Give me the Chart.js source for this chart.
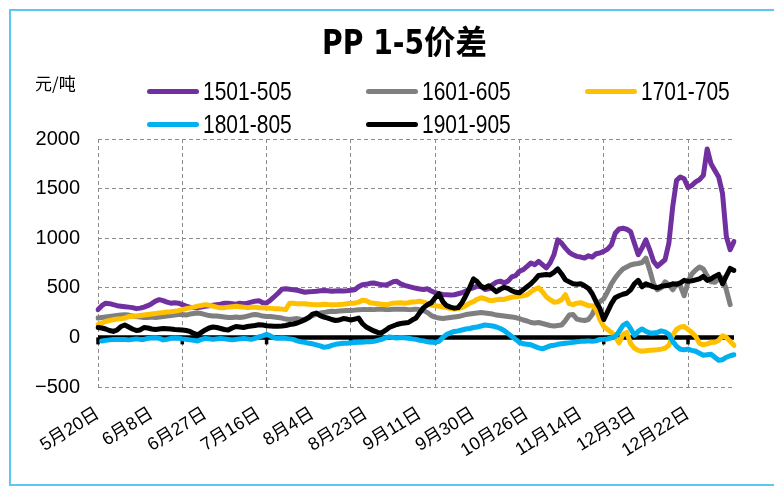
<!DOCTYPE html>
<html>
<head>
<meta charset="utf-8">
<script src="https://cdn.jsdelivr.net/npm/chart.js@4.4.0/dist/chart.umd.min.js"></script>
<style>
html,body{margin:0;padding:0;background:#fff;}
#wrap{position:relative;width:774px;height:486px;overflow:hidden;background:#fff;}
#frame{position:absolute;left:9px;top:9px;width:800px;height:477px;box-sizing:border-box;border:2px solid #5BC8F2;}
#title{position:absolute;left:322px;top:25px;font-family:"Liberation Sans Narrow","DejaVu Sans Condensed","Noto Sans CJK SC",sans-serif;font-weight:bold;font-size:33px;line-height:36px;color:#000;white-space:nowrap;transform:scaleX(0.95);transform-origin:left center;}
#unit{position:absolute;left:35px;top:73px;font-family:"Noto Sans CJK SC",sans-serif;font-size:17px;line-height:20px;color:#000;white-space:nowrap;}
.lg-line{position:absolute;height:5px;border-radius:3px;}
.lg-text{position:absolute;font-family:"Liberation Sans Narrow","Liberation Sans",sans-serif;font-size:25px;line-height:28px;color:#000;white-space:nowrap;transform:scaleX(0.84);transform-origin:left center;}
canvas{position:absolute;left:0;top:0;}
</style>
</head>
<body>
<div id="wrap">
  <div id="frame"></div>
  <canvas id="c" width="774" height="486"></canvas>
  <div id="title">PP 1-5价差</div>
  <div id="unit">元/吨</div>
  <div id="legend"></div>
</div>
<script>
// ---- data ----
const tickLabels = ['5月20日','6月8日','6月27日','7月16日','8月4日','8月23日','9月11日','9月30日','10月26日','11月14日','12月3日','12月22日'];
const seriesNames = ['1501-505','1601-605','1701-705','1801-805','1901-905'];
const seriesColors = ['#7030A0','#7F7F7F','#FFC000','#00B0F0','#000000'];

const s1501 = [
280,320,345,340,330,320,315,310,305,300,
290,295,305,320,340,365,380,370,355,345,
350,345,330,315,305,300,300,305,315,320,
325,330,335,345,345,340,335,345,340,345,
355,365,370,350,348,375,410,445,485,490,
485,480,475,465,455,460,462,465,470,473,
470,465,468,470,468,470,475,480,510,530,
535,545,548,540,530,528,540,560,565,540,
525,515,505,495,488,483,490,467,450,440,
433,430,427,430,440,450,467,490,500,517,
510,483,490,533,557,567,550,567,610,623,
667,683,717,750,733,767,733,700,750,833,
983,950,900,857,833,817,810,800,823,810,
843,850,867,890,933,1050,1093,1100,1090,1067,
950,833,900,983,883,767,717,750,783,950,
1317,1583,1617,1600,1510,1533,1567,1590,1633,1900,
1750,1683,1617,1450,1017,883,967];

const s1601 = [
195,200,205,210,215,220,225,228,225,215,
210,205,200,200,205,200,205,210,215,220,
225,230,230,225,235,240,245,240,230,220,
215,215,210,205,200,200,205,200,205,215,
225,230,225,215,210,210,205,200,195,185,
180,185,190,180,175,200,220,235,245,250,
258,263,262,265,268,270,272,275,278,280,
280,282,280,283,285,282,280,283,285,285,
283,280,282,285,280,270,250,220,205,195,
190,195,200,205,210,220,230,235,240,245,
250,245,240,235,225,220,215,210,205,200,
190,175,165,150,145,150,140,130,120,115,
120,125,170,225,230,185,175,170,180,230,
320,360,390,460,540,600,650,690,710,730,
740,745,755,800,680,540,480,500,560,530,
480,540,520,420,560,640,680,710,690,620,
560,555,590,600,480,330,null];

const s1701 = [
130,145,160,170,178,185,187,195,210,213,
215,220,225,230,235,240,247,250,255,258,
263,270,280,290,298,305,315,322,330,325,
315,305,298,300,305,310,313,310,305,300,
303,305,300,298,297,293,290,288,285,280,
345,345,340,338,340,335,332,330,330,335,
332,330,328,332,335,340,345,345,355,375,
370,350,345,340,335,330,335,345,348,350,
345,350,358,360,365,355,340,325,318,315,
305,300,290,285,292,300,320,345,360,385,
400,390,375,370,380,385,383,395,405,410,
415,420,430,460,485,500,460,410,380,355,
360,380,430,340,330,345,350,335,320,320,
285,180,110,80,50,10,-55,30,50,-60,
-110,-130,-140,-135,-130,-128,-125,-118,-110,-80,
20,80,105,110,80,50,10,-60,-75,-65,
-50,-50,-30,15,0,-40,-80];

const s1801 = [
null,-37,-30,-25,-22,-20,-20,-22,-25,-20,
-15,-20,-20,-10,-5,-3,-10,-25,-20,-10,
-5,-8,-15,-20,-25,-30,-37,-20,-10,-15,
-20,-15,-10,-15,-20,-25,-20,-15,-10,-15,
-20,-10,5,15,30,15,-5,-10,-5,-10,
-15,-20,-35,-45,-50,-60,-65,-75,-85,-100,
-95,-80,-70,-65,-60,-58,-55,-52,-50,-48,
-45,-45,-40,-30,-20,-5,5,0,-5,0,
-3,-8,-15,-20,-30,-35,-45,-50,-50,-40,
0,30,45,60,65,75,85,90,100,105,
115,125,120,115,105,90,70,40,10,-20,
-50,-65,-70,-75,-90,-105,-115,-100,-85,-80,
-70,-65,-60,-55,-50,-45,-40,-38,-35,-40,
-35,-20,-18,-15,-5,10,60,120,145,90,
20,60,85,60,45,45,50,65,55,30,
-40,-90,-120,-125,-118,-130,-140,-160,-180,-175,
-170,-200,-230,-225,-200,-185,-175];

const s1901 = [
100,95,85,70,60,75,110,125,105,85,
70,75,100,95,85,80,85,90,88,85,
80,78,75,70,60,40,25,50,75,95,
105,100,90,80,75,95,110,105,100,110,
115,120,128,125,118,115,112,113,115,120,
130,135,145,160,180,200,235,245,220,205,
195,180,170,175,190,185,175,185,195,140,
105,85,65,50,45,70,100,115,130,140,
145,150,175,195,250,300,330,350,400,440,
360,320,305,295,300,350,420,500,590,560,
515,500,520,490,460,485,505,495,470,455,
450,480,510,540,580,625,630,635,630,655,
690,640,580,560,540,535,540,520,495,440,
360,290,180,260,340,400,420,435,445,480,
540,575,510,540,525,510,500,515,520,525,
540,535,550,575,565,570,580,590,615,575,
590,615,635,540,620,695,675];

const allSeries = [s1501, s1601, s1701, s1801, s1901];
const LABEL_EVERY = 14;   // category label interval
const GRID_EVERY = 22;    // vertical gridline interval
const categories = s1501.map((_, i) => (i % LABEL_EVERY === 0 ? tickLabels[i / LABEL_EVERY] : ''));

// ---- legend (HTML) ----
const legendSlots = [[147, 91], [366, 91], [585, 91], [147, 124], [366, 124]];
const lg = document.getElementById('legend');
seriesNames.forEach((name, k) => {
  const [lx, ly] = legendSlots[k];
  const line = document.createElement('div');
  line.className = 'lg-line';
  line.style.left = lx + 'px'; line.style.top = (ly - 2.5) + 'px';
  line.style.width = '52px'; line.style.background = seriesColors[k];
  lg.appendChild(line);
  const t = document.createElement('div');
  t.className = 'lg-text';
  t.style.left = (lx + 56) + 'px'; t.style.top = (ly - 14) + 'px';
  t.textContent = name;
  lg.appendChild(t);
});

// ---- zero axis plugin ----
const zeroAxis = {
  id: 'zeroAxis',
  beforeDatasetsDraw(chart) {
    const { ctx, chartArea: a, scales } = chart;
    const y0 = scales.y.getPixelForValue(0);
    ctx.save();
    ctx.strokeStyle = '#000';
    ctx.lineWidth = 4.5;
    ctx.beginPath(); ctx.moveTo(a.left, y0); ctx.lineTo(a.right, y0); ctx.stroke();
    ctx.lineWidth = 3.5;
    scales.xg.ticks.forEach((t, i) => {
      if (i % GRID_EVERY === 0) {
        const x = scales.xg.getPixelForTick(i);
        ctx.beginPath(); ctx.moveTo(x, y0); ctx.lineTo(x, y0 + 7); ctx.stroke();
      }
    });
    ctx.restore();
  }
};

const gridColor = '#8C8C8C';
new Chart(document.getElementById('c'), {
  type: 'line',
  data: {
    labels: categories,
    datasets: allSeries.map((d, k) => ({
      label: seriesNames[k],
      data: d,
      borderColor: seriesColors[k],
      backgroundColor: seriesColors[k],
      borderWidth: 5,
      pointRadius: 0,
      tension: 0,
      fill: false,
      borderCapStyle: 'round',
      borderJoinStyle: 'round',
      xAxisID: 'x',
      yAxisID: 'y',
      order: allSeries.length - k
    }))
  },
  options: {
    responsive: false,
    animation: false,
    devicePixelRatio: 1,
    layout: { padding: { left: 10, right: 40, top: 139, bottom: 0 } },
    plugins: { legend: { display: false }, title: { display: false }, tooltip: { enabled: false } },
    scales: {
      x: {
        type: 'category', position: 'bottom', offset: false,
        grid: { display: false, drawTicks: false },
        border: { display: false },
        ticks: {
          autoSkip: false, minRotation: 32, maxRotation: 32, padding: 16,
          color: '#000',
          font: { size: 18, family: '"Liberation Sans","Noto Sans CJK SC",sans-serif' }
        },
        afterFit(s) { s.height = 99; }
      },
      xg: {
        type: 'category', position: 'bottom', offset: false,
        grid: {
          drawTicks: false, lineWidth: 1,
          color: ctx => (ctx.index % GRID_EVERY === 0 ? gridColor : 'rgba(0,0,0,0)')
        },
        border: { display: false, dash: [4, 3] },
        ticks: { display: false, autoSkip: false },
        afterFit(s) { s.height = 0; }
      },
      y: {
        min: -500, max: 2000,
        grid: { color: gridColor, lineWidth: 1, drawTicks: false },
        border: { display: false, dash: [4, 3] },
        ticks: {
          stepSize: 500, padding: 18, color: '#000',
          font: { size: 20, family: '"Liberation Sans",sans-serif' },
          callback: v => String(v).replace('-', '\u2212')
        },
        afterFit(s) { s.width = 88; }
      }
    }
  },
  plugins: [zeroAxis]
});
</script>
</body>
</html>
